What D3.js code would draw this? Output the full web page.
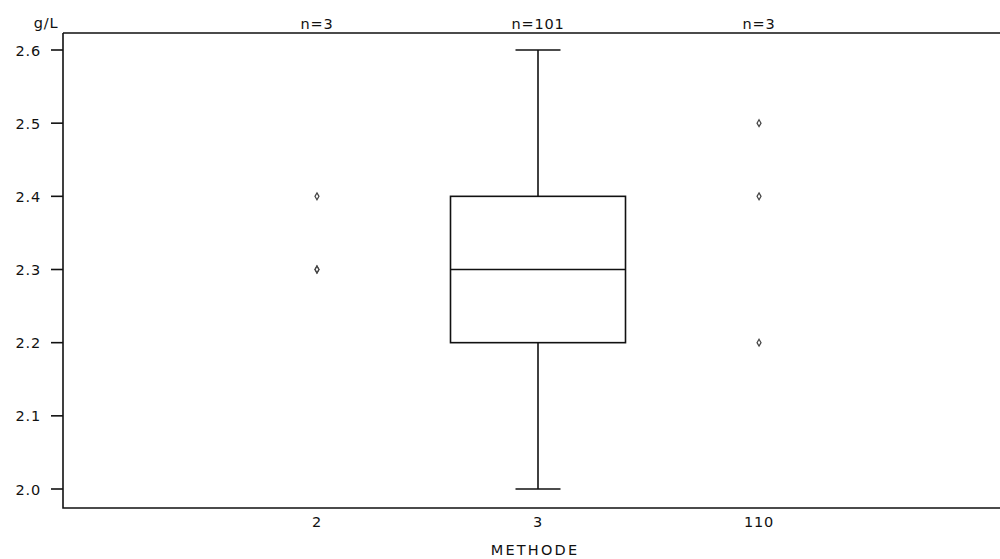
<!DOCTYPE html>
<html><head><meta charset="utf-8">
<script src="https://cdn.jsdelivr.net/npm/d3@7"></script>
<style>body{margin:0;background:#fff}svg{display:block}text{font-family:"DejaVu Sans",Verdana,sans-serif;font-size:14.5px;fill:#111;letter-spacing:0.8px}</style>
</head><body><svg id="c" width="1000" height="559"></svg>
<script>
const categories = ["2", "3", "110"];
const counts = [3, 101, 3];
// box stats for the category with a box: [min, q1, median, q3, max]
const boxCategory = "3";
const boxStats = [2.0, 2.2, 2.3, 2.4, 2.6];
// individual points for small groups
const pointCats = ["2", "2", "2", "110", "110", "110"];
const pointVals = [2.4, 2.3, 2.3, 2.5, 2.4, 2.2];
const yTicks = [2.0, 2.1, 2.2, 2.3, 2.4, 2.5, 2.6];
const yUnit = "g/L";
const xTitle = "METHODE";

const svg = d3.select("#c");
const L = 63, R = 1013, T = 33, B = 508;
const x = d3.scalePoint().domain(categories).range([L, R]).padding(1.149);
const y = d3.scaleLinear().domain([2.0, 2.6]).range([489, 50]);

// frame
svg.append("path").attr("d", `M${L},${T}H${R}M${L},${T}V${B}H${R}`)
  .attr("fill", "none").attr("stroke", "#111").attr("stroke-width", 1.6);

// y axis ticks
const ya = svg.append("g");
yTicks.forEach(t => {
  ya.append("line").attr("x1", L - 12).attr("x2", L).attr("y1", y(t)).attr("y2", y(t))
    .attr("stroke", "#111").attr("stroke-width", 1.6);
  ya.append("text").attr("x", 41).attr("y", y(t) + 5.5).attr("text-anchor", "end").text(d3.format(".1f")(t));
});
svg.append("text").attr("x", 46).attr("y", 28).attr("text-anchor", "middle").text(yUnit);

// x labels and counts
categories.forEach((c, i) => {
  svg.append("text").attr("x", x(c)).attr("y", 527).attr("text-anchor", "middle").text(c);
  svg.append("text").attr("x", x(c)).attr("y", 28.5).attr("text-anchor", "middle").text("n=" + counts[i]);
});
svg.append("text").attr("x", x("3") - 3).attr("y", 555).attr("text-anchor", "middle")
  .style("letter-spacing", "2.2px").text(xTitle);

// box
const cx = x(boxCategory), bw = 175, cw = 45;
const [mn, q1, md, q3, mx] = boxStats;
const g = svg.append("g").attr("stroke", "#111").attr("stroke-width", 1.6).attr("fill", "none");
g.append("rect").attr("x", cx - bw / 2).attr("y", y(q3)).attr("width", bw).attr("height", y(q1) - y(q3));
g.append("line").attr("x1", cx - bw / 2).attr("x2", cx + bw / 2).attr("y1", y(md)).attr("y2", y(md));
g.append("line").attr("x1", cx).attr("x2", cx).attr("y1", y(q3)).attr("y2", y(mx));
g.append("line").attr("x1", cx).attr("x2", cx).attr("y1", y(q1)).attr("y2", y(mn));
g.append("line").attr("x1", cx - cw / 2).attr("x2", cx + cw / 2).attr("y1", y(mx)).attr("y2", y(mx));
g.append("line").attr("x1", cx - cw / 2).attr("x2", cx + cw / 2).attr("y1", y(mn)).attr("y2", y(mn));

// points (small diamonds)
const sym = d3.symbol().type(d3.symbolDiamond).size(14);
pointVals.forEach((v, i) => {
  svg.append("path").attr("d", sym()).attr("transform", `translate(${x(pointCats[i])},${y(v)})`)
    .attr("fill", "none").attr("stroke", "#444").attr("stroke-width", 1.2);
});
</script></body></html>
